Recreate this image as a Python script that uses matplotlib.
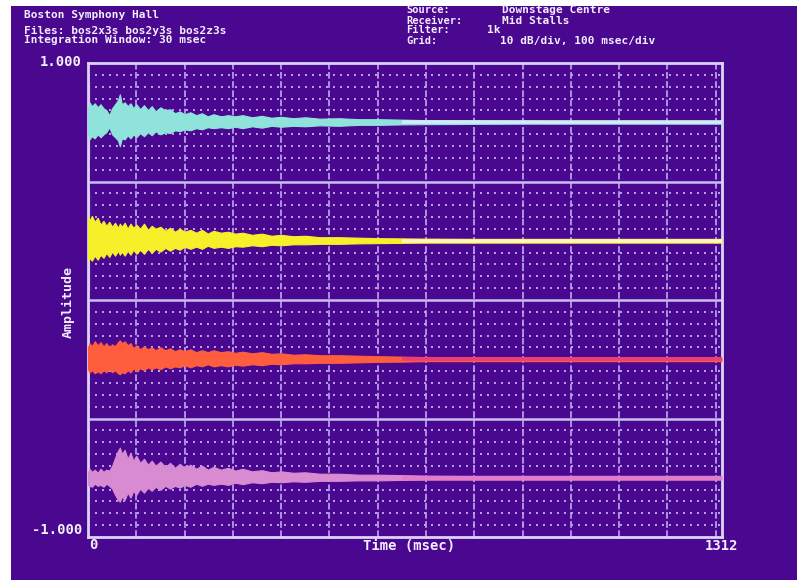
import numpy as np
import matplotlib
matplotlib.use('Agg')
import matplotlib.pyplot as plt
from matplotlib.patches import Rectangle

# ---- data ----
# sample times (msec) at which the envelope of each trace was read
t_ms = [0, 3, 8, 14, 20, 26, 32, 38, 44, 50,
        56, 62, 66, 70, 76, 82, 88, 94, 100, 108,
        116, 124, 132, 140, 150, 160, 170, 180, 190, 200,
        212, 224, 236, 248, 260, 275, 290, 305, 320, 340,
        360, 380, 400, 425, 450, 480, 520, 560, 600, 650,
        700, 800, 900, 1000, 1100, 1200, 1312]

# channel centre lines (amplitude)
offsets = [0.75, 0.25, -0.25, -0.75]

# upper / lower excursion of each trace around its centre (amplitude)
cyan_up = [0.051, 0.084, 0.068, 0.080, 0.063, 0.076, 0.059, 0.051, 0.030, 0.059,
           0.076, 0.093, 0.118, 0.076, 0.084, 0.068, 0.080, 0.059, 0.076, 0.055,
           0.072, 0.051, 0.068, 0.046, 0.063, 0.051, 0.055, 0.038, 0.046, 0.034,
           0.042, 0.030, 0.038, 0.025, 0.034, 0.025, 0.030, 0.025, 0.030, 0.021,
           0.027, 0.019, 0.023, 0.017, 0.021, 0.015, 0.017, 0.013, 0.013, 0.011,
           0.009, 0.008, 0.007, 0.006, 0.006, 0.006, 0.006]
cyan_lo = [0.042, 0.072, 0.059, 0.068, 0.051, 0.063, 0.051, 0.042, 0.021, 0.051,
           0.063, 0.076, 0.101, 0.068, 0.072, 0.055, 0.068, 0.051, 0.063, 0.046,
           0.059, 0.042, 0.055, 0.038, 0.051, 0.042, 0.046, 0.034, 0.038, 0.030,
           0.034, 0.025, 0.030, 0.021, 0.025, 0.021, 0.025, 0.019, 0.025, 0.017,
           0.023, 0.015, 0.019, 0.015, 0.017, 0.013, 0.015, 0.011, 0.011, 0.009,
           0.008, 0.007, 0.006, 0.006, 0.006, 0.006, 0.006]

yellow_up = [0.101, 0.084, 0.105, 0.080, 0.097, 0.068, 0.084, 0.063, 0.080, 0.059,
             0.076, 0.055, 0.072, 0.059, 0.076, 0.051, 0.072, 0.055, 0.068, 0.051,
             0.072, 0.046, 0.063, 0.051, 0.059, 0.042, 0.055, 0.038, 0.051, 0.038,
             0.046, 0.034, 0.046, 0.030, 0.042, 0.034, 0.038, 0.030, 0.034, 0.025,
             0.030, 0.021, 0.025, 0.019, 0.021, 0.015, 0.015, 0.013, 0.011, 0.010,
             0.009, 0.008, 0.008, 0.008, 0.008, 0.008, 0.008]
yellow_lo = [0.089, 0.072, 0.084, 0.063, 0.080, 0.059, 0.072, 0.051, 0.068, 0.046,
             0.063, 0.042, 0.059, 0.046, 0.063, 0.042, 0.059, 0.038, 0.055, 0.038,
             0.055, 0.034, 0.051, 0.034, 0.046, 0.030, 0.042, 0.030, 0.038, 0.025,
             0.034, 0.025, 0.034, 0.021, 0.030, 0.025, 0.030, 0.023, 0.025, 0.019,
             0.023, 0.017, 0.019, 0.015, 0.015, 0.013, 0.013, 0.011, 0.010, 0.009,
             0.008, 0.008, 0.008, 0.008, 0.008, 0.008, 0.008]

red_up = [0.051, 0.068, 0.055, 0.076, 0.059, 0.072, 0.055, 0.068, 0.051, 0.063,
          0.055, 0.072, 0.080, 0.068, 0.076, 0.059, 0.068, 0.046, 0.059, 0.042,
          0.055, 0.042, 0.051, 0.038, 0.051, 0.038, 0.046, 0.034, 0.042, 0.034,
          0.042, 0.030, 0.038, 0.030, 0.038, 0.030, 0.034, 0.027, 0.032, 0.025,
          0.030, 0.023, 0.025, 0.019, 0.021, 0.017, 0.017, 0.015, 0.013, 0.011,
          0.009, 0.008, 0.008, 0.008, 0.008, 0.008, 0.008]
red_lo = [0.042, 0.055, 0.046, 0.059, 0.051, 0.059, 0.046, 0.055, 0.042, 0.055,
          0.046, 0.059, 0.063, 0.055, 0.059, 0.046, 0.055, 0.038, 0.051, 0.038,
          0.046, 0.034, 0.042, 0.034, 0.042, 0.030, 0.038, 0.030, 0.034, 0.025,
          0.034, 0.025, 0.030, 0.021, 0.030, 0.025, 0.030, 0.023, 0.027, 0.021,
          0.025, 0.019, 0.021, 0.017, 0.017, 0.015, 0.015, 0.013, 0.011, 0.010,
          0.008, 0.008, 0.008, 0.008, 0.008, 0.008, 0.008]

pink_up = [0.025, 0.038, 0.025, 0.034, 0.021, 0.038, 0.025, 0.034, 0.030, 0.051,
           0.084, 0.114, 0.127, 0.101, 0.118, 0.080, 0.105, 0.072, 0.093, 0.063,
           0.080, 0.055, 0.072, 0.051, 0.068, 0.046, 0.063, 0.042, 0.059, 0.042,
           0.055, 0.038, 0.051, 0.034, 0.046, 0.034, 0.042, 0.030, 0.038, 0.027,
           0.032, 0.023, 0.027, 0.021, 0.023, 0.017, 0.017, 0.013, 0.013, 0.011,
           0.009, 0.008, 0.008, 0.008, 0.008, 0.008, 0.008]
pink_lo = [0.030, 0.034, 0.038, 0.025, 0.034, 0.030, 0.038, 0.025, 0.034, 0.046,
           0.072, 0.093, 0.101, 0.080, 0.093, 0.063, 0.084, 0.055, 0.072, 0.046,
           0.063, 0.042, 0.055, 0.038, 0.051, 0.034, 0.046, 0.034, 0.042, 0.030,
           0.038, 0.025, 0.034, 0.025, 0.030, 0.025, 0.030, 0.021, 0.027, 0.019,
           0.023, 0.017, 0.019, 0.015, 0.017, 0.013, 0.013, 0.011, 0.011, 0.009,
           0.008, 0.008, 0.008, 0.008, 0.008, 0.008, 0.008]

# direct-sound marks at the start of the two upper channels: (time, low, high)
direct_marks = [(2, 0.59, 0.92), (2, 0.04, 0.46)]

t_end = 1312
tail_start = 650

trace_colors = ['#8fe3da', '#f6f02a', '#ff5e3e', '#d98bd2']
tail_colors = ['#d2ecf2', '#fff4c4', '#ec3c78', '#e27ccb']

# ---- figure ----
purple = '#4a0890'
fg = '#f4eeff'
grid_c = '#bda8ee'
mono = 'DejaVu Sans Mono'

W, H = 802, 582
fig = plt.figure(figsize=(W / 100, H / 100), dpi=100, facecolor='white')
fig.patches.append(Rectangle((11 / W, 2 / H), 786 / W, 574 / H, transform=fig.transFigure,
                             facecolor=purple, edgecolor='none', zorder=-10))

ax = fig.add_axes([88 / W, 45 / H, 633.5 / W, 474 / H])
ax.set_facecolor(purple)
ax.set_xlim(0, t_end)
ax.set_ylim(-1, 1)
ax.set_xticks([])
ax.set_yticks([])
for sp in ax.spines.values():
  sp.set_color('#dcd4f6')
  sp.set_linewidth(2)

# grid: 100 msec/div vertical, fine dotted horizontal, solid channel separators
for tx in range(100, t_end, 100):
  ax.axvline(tx, color=grid_c, lw=1.2, ls=(0, (4, 1.5)), zorder=1)
for v in np.round(np.arange(-0.95, 1.0, 0.05), 2):
  if v in (-0.5, 0.0, 0.5):
    ax.axhline(v, color='#cbbcf2', lw=1.8, zorder=1)
  else:
    ax.axhline(v, color=grid_c, lw=1.4, ls=(0, (1, 2.6)), zorder=1)

t = np.array(t_ms)
ups = [cyan_up, yellow_up, red_up, pink_up]
los = [cyan_lo, yellow_lo, red_lo, pink_lo]
for i in range(4):
  base = offsets[i]
  up = np.array(ups[i])
  lo = np.array(los[i])
  ax.fill_between(t, base + up, base - lo, color=trace_colors[i], lw=0.8,
                  edgecolor=trace_colors[i], zorder=3)
  m = t >= tail_start
  ax.plot(t[m], np.full(m.sum(), base), color=tail_colors[i], lw=2.6, zorder=4,
          solid_capstyle='butt')

for tx, lo_v, hi_v in direct_marks:
  ax.vlines(tx, lo_v, hi_v, color='#a69cc0', lw=1.6, zorder=2)

# ---- texts ----
def ftext(x, y, s, **kw):
  fig.text(x / W, 1 - y / H, s, color=fg, family=mono, fontweight='bold', va='center', **kw)

ftext(24, 14.5, 'Boston Symphony Hall', fontsize=8)
ftext(24, 31, 'Files: bos2x3s bos2y3s bos2z3s', fontsize=8)
ftext(24, 40, 'Integration Window: 30 msec', fontsize=8)

ftext(406, 10, 'Source:', fontsize=7.5)
ftext(502, 10, 'Downstage Centre', fontsize=8)
ftext(406, 20.5, 'Receiver:', fontsize=7.5)
ftext(502, 20.5, 'Mid Stalls', fontsize=8)
ftext(406, 30, 'Filter:', fontsize=7.5)
ftext(487, 30, '1k', fontsize=8)
ftext(406, 41, 'Grid:', fontsize=7.5)
ftext(500, 41, '10 dB/div, 100 msec/div', fontsize=8)

ftext(82, 62.5, '1.000', fontsize=10, ha='right')
ftext(82, 530, '-1.000', fontsize=10, ha='right')
ftext(93, 545, '0', fontsize=10, ha='center')
ftext(722, 546, '1312', fontsize=10, ha='center')
ftext(409, 546, 'Time (msec)', fontsize=10, ha='center')
ftext(68, 302, 'Amplitude', fontsize=9.5, ha='center', rotation=90)

fig.savefig('out.png', dpi=100, facecolor=fig.get_facecolor())
